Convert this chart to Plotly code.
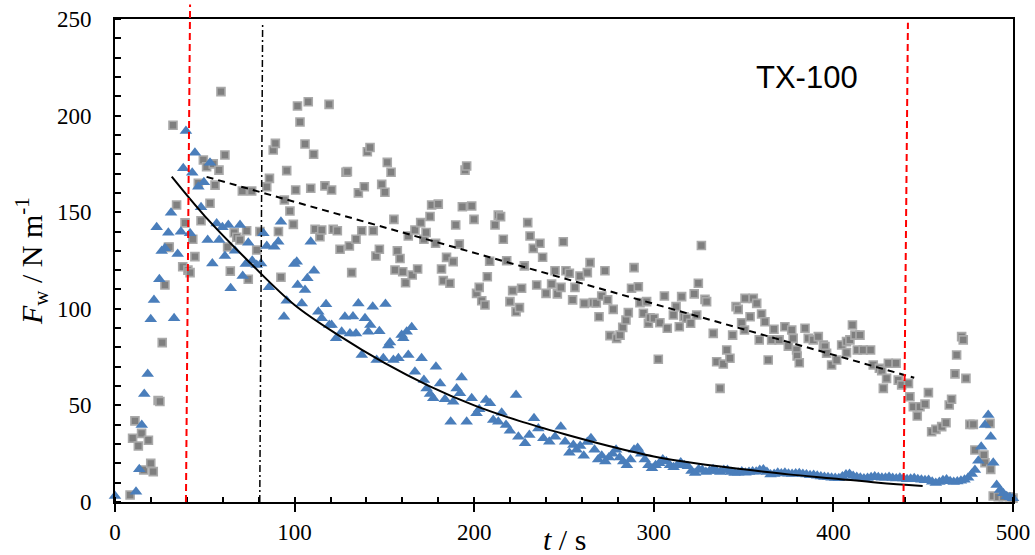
import plotly.graph_objects as go

# ---------------- data ----------------
gray_x = [8.4, 9.8, 11.1, 13, 14.8, 16, 18.6, 19.9, 21.3, 24, 25, 26.3, 27.8, 29.7, 30.2, 32.3, 34.3, 37.7,
          39, 40.6, 41.8, 43.3, 44.5, 46.4, 47.9, 49.2, 51, 52.9, 54.7, 55.7, 57.9, 59, 61.2, 62.7, 64.2,
          66.4, 67.8, 69.6, 70.9, 73.3, 74.2, 76.1, 78.9, 80.7, 84.5, 86, 88.1, 89.3, 91, 92.4, 94.3, 95.6,
          97.4, 99.3, 100.6, 101.6, 103, 105.8, 107.6, 109, 110.6, 111.4, 114.1, 115.1, 116.9, 119.2, 120.6,
          121.5, 123.8, 125.3, 128.6, 129.4, 130.5, 131.8, 134.2, 135.5, 137.4, 138.8, 140.5, 142, 143.8,
          145.3, 147.2, 148.5, 150.3, 151.6, 153.7, 155.3, 155.9, 157.2, 158.7, 160.2, 161.8, 163.3, 165.5,
          167, 168.5, 170.2, 172, 173.2, 175.4, 176.3, 178.5, 180, 181.8, 182.8, 184.6, 186.5, 188.3, 189.7,
          191.7, 193.4, 194.9, 195.8, 198.6, 199.9, 201.3, 202.8, 204.2, 206, 207.3, 208.6, 211.6, 213.4,
          214.7, 216.2, 218.1, 219.9, 221.4, 223.3, 225.2, 226.4, 227.9, 229.8, 231.1, 232.9, 234.8, 236.6,
          238.1, 240, 243.1, 245, 246.3, 248.3, 249.6, 251.1, 253, 254.8, 256.1, 258.9, 261.3, 263, 264.5,
          266.3, 268, 269.5, 271, 272.8, 274.3, 275.6, 277.4, 279.3, 281.2, 282.7, 284.5, 285.8, 287.6, 289,
          291.4, 292.3, 294.2, 296, 297, 297.9, 300.1, 302.5, 303.4, 305.9, 307.5, 310.9, 312.4, 314.2,
          315.5, 316.8, 318.3, 320.5, 322.5, 323.9, 324.8, 326.5, 328.5, 329.4, 333.1, 335, 336.9, 338.7,
          340.6, 342.4, 343.9, 345.8, 347, 348.9, 350.5, 350.8, 353.6, 355.4, 357.3, 358.7, 360, 361.9,
          363.7, 365.6, 366.9, 369.8, 373, 374.9, 376.8, 377.6, 379.5, 379.8, 381, 384.2, 386, 388.8, 391.6,
          394.4, 395.3, 396.2, 399, 401.8, 404.6, 407.3, 407.3, 409.2, 410.6, 412, 413.3, 414.8, 416.6,
          420.7, 422.2, 425.6, 426.9, 427.8, 429.6, 430.6, 434.9, 436.1, 438, 441.8, 442.6, 444.5, 446.7,
          448.2, 451, 452.9, 454.7, 457.1, 460.3, 462.7, 464.5, 465.8, 467.7, 468.6, 471.4, 472.3, 473.8,
          476, 477.9, 478.8, 483.8, 484.4, 487.2, 487.6, 489, 491.8, 494.6, 498.3, 500]
gray_y = [3.6, 33, 42, 29, 35.5, 16.6, 32, 20, 15.7, 52.5, 52, 82.5, 112.3, 131.8, 132, 195, 153.7, 121.8,
          144.5, 120, 118.7, 136, 127, 165, 145.6, 177, 173.5, 154.6, 175, 164, 171.8, 212.4, 179.6, 132, 119.5,
          139.4, 137, 135.6, 161, 140.4, 115.3, 161, 130.4, 140, 163.2, 167.5, 182.2, 185.6, 140, 116.3, 156.3, 171.5,
          150.6, 143.7, 161.5, 205, 196.7, 185.3, 207.2, 162.4, 180, 141.2, 137.3, 140.8, 163.6, 205.8, 161.5,
          141.2, 140.4, 130.8, 170.7, 171, 132.5, 118.7, 136, 160, 140.4, 163.2, 181.3, 183.5, 140.4,
          127.3, 130.8, 164.4, 160.3, 175.8, 170.7, 146.3, 120.1, 130, 126, 119.2, 113.5, 137.7, 117.5,
          140.8, 120.6, 144.6, 136, 139.5, 147.8, 153.7, 133.9, 154.2, 120.6, 114.6, 126.6, 113.2, 124.4, 143.4,
          133.5, 152.8, 171.8, 173.9, 153.2, 146.3, 108, 111.1, 104.2, 102, 116.6, 124.6, 143.4, 148.5,
          147.7, 136, 124.9, 103.7, 109.4, 98.5, 100.6, 110.6, 122.2, 144.6, 137.7, 131.3, 112.3, 133.9,
          126.7, 108, 112.8, 119.7, 107.7, 111.1, 134.7, 119.7, 118.4, 104.6, 111.1, 117, 102.8, 118.7, 123.9,
          103.2, 103, 95.9, 106.6, 119.7, 104.6, 86.1, 99.7, 84.7, 86.4, 90.4, 94.2, 98, 110.6, 121.3,
          111.4, 103.2, 97.7, 103.7, 92.5, 95.4, 95.1, 73.9, 92.8, 106.6, 89.9, 96.8, 101.1, 90.7,
          106.3, 95.9, 95.1, 92.5, 107.7, 96.8, 113.2, 132.8, 104.9, 103.7, 87.3, 72.6, 58.8, 71.4,
          78.7, 74.4, 86.4, 101.1, 99.7, 92.8, 89, 105.4, 95.9, 105.4, 102.8, 83.9, 97.3, 93.3,
          73.5, 83.9, 89.4, 83.9, 90.7, 80.7, 89, 84.7, 78.7, 75.6, 72.1, 89.9, 84.7, 83.9, 85.6,
          81.3, 80.4, 77, 70.9, 73.5, 81.3, 83, 77.3, 83.9, 91.6, 86.4, 78.7, 86.4, 78.7,
          78.7, 70.9, 69.2, 68, 58.8, 64, 71.8, 71.8, 63.1, 60.6, 61.4, 54.5, 49.3, 44.5,
          49.3, 50.7, 56.6, 36.4, 37.6, 39, 41, 50.2, 53.2, 66.3, 76.1, 85.6, 83.9, 64,
          40.2, 40.2, 26.9, 24.3, 20.3, 40.7, 16.9, 3.1, 2.7, 2.7, 2.7, 2]

blue_x = [0, 11.7, 13.5, 14.9, 16.3, 18.2, 19.9, 21.7, 23.2, 24.7, 26, 27.8, 29.7, 31.2, 32.9, 34.9, 36.7,
          38, 39.5, 41.8, 43, 44.5, 46.4, 47.9, 49.5, 51.6, 52.9, 54.2, 56.6, 58, 59.8, 61.2, 63.1, 64.4,
          66.8, 69.6, 71.1, 72.8, 74.2, 76.4, 78.9, 81.3, 82.6, 84.5, 85.7, 88.7, 90.9, 92.4, 94.1, 95.6,
          99.8, 101.2, 101.7, 104, 105.8, 107.1, 109, 110.8, 113.2, 115.1, 117.5, 119.3, 120.6, 123.1,
          126.2, 128, 130.8, 132.5, 134.2, 135.5, 137.4, 139.2, 141, 142.2, 143.5, 145.7, 147.2, 149.4,
          150.6, 152.2, 153.1, 155, 157.8, 159.6, 160.5, 162.4, 163.3, 165.2, 167, 170.7, 172, 173.5,
          175.4, 177.2, 178.7, 181, 183.7, 186.9, 188.3, 190.2, 192.1, 193, 195.8, 198.6, 201.3, 202.8,
          206.6, 208.8, 210.6, 213.4, 215.3, 217.7, 219.9, 223.3, 224.6, 228.3, 230.7, 233.3, 235.7,
          238.5, 241.8, 245, 248.2, 250.6, 253, 255.2,
          257, 259, 261, 263, 265, 267, 269, 271, 273, 275, 277, 279, 281, 283, 285, 287, 289, 291, 293,
          295, 297, 299, 301, 303, 305, 307, 309, 311, 313, 315, 317, 319, 321, 323, 325, 327, 329, 331,
          333, 335, 337, 339, 341, 343, 345, 347, 349, 351, 353, 355, 357, 359, 361, 363, 365, 367, 369,
          371, 373, 375, 377, 379, 381, 383, 385, 387, 389, 391, 393, 395, 397, 399, 401, 403, 405, 407,
          409, 411, 413, 415, 417, 419, 421, 423, 425, 427, 429, 431, 433, 435, 437, 439, 441, 443, 445,
          447, 449, 451, 453, 455, 457, 459, 461, 463, 465, 467, 469, 471, 473, 475, 477,
          478.8, 480.7, 482.3, 484.4, 486.2, 487.6, 489, 490.9, 492.8, 494.6, 496.5, 498.3, 500]
blue_y = [3.1, 5.3, 16.9, 39.9, 55.9, 66.3, 94.6, 104.6, 142.2, 115.3, 129.9, 131.3, 139.4, 149.7, 95.1, 128.4, 139.9,
          172.7, 192, 139.1, 170.4, 180.8, 163.2, 152.5, 165.5, 135.6, 175.6, 123.5, 144.2, 135.6, 142.2, 127.3, 143.4, 110.6,
          130.1, 143.4, 117, 123.2, 134.2, 124.9, 122.7, 123.5, 139.1, 132.5, 111.1, 132.1, 134.7, 145.1, 95.9, 104.2,
          123.2, 124.4, 112.3, 102.8, 109.7, 115.8, 134.7, 119.7, 98.5, 95.1, 102.3, 91.6, 91.6, 84.7,
          88.1, 95.9, 87.2, 96, 87.2, 102.8, 76.1, 95.1, 88.1, 91.6, 101, 73.5, 88.4, 74.4,
          102.5, 81, 82.5, 73.5, 74.4, 86.4, 84.7, 88.1, 76.1, 90.5, 67.4, 74.4, 63.1, 58.8,
          55.9, 53.7, 70, 61.4, 53.2, 41.6, 51.9, 58.8, 56.3, 64.5, 41.6, 53.7, 45.9, 48,
          52.8, 51.1, 42.4, 41.6, 46.2, 39.9, 36.9, 55.4, 33.8, 30.4, 34.7, 43.3, 38.1,
          33, 31.2, 33.8, 39, 31.2, 25.5, 29.5,
          27, 29, 24, 31, 33, 27, 22, 24, 21, 23, 25, 27, 23, 21, 19, 22, 27, 28, 25,
          22, 19, 17.5, 19, 20, 22, 21, 19, 18, 19, 20.5, 19, 18.5, 16, 15, 17, 16.5, 15.5, 16,
          17, 16, 15.5, 16.5, 16.5, 15.5, 15, 15.2, 15.8, 15.2, 15.5, 15.8, 15.7, 16.5, 16.8, 15.5, 14.2, 14.5, 15.2,
          14.8, 15.2, 14.6, 14.5, 14.8, 14.9, 14.5, 14.2, 13.8, 14, 13.6, 13.2, 13, 12.8, 12.5, 12.4, 12.3, 13.2, 14.2,
          14.5, 13.5, 13, 12.5, 12.2, 12.4, 12.8, 13.2, 12.8, 12.5, 12.6, 12.9, 12.4, 12.2, 12.5, 12.1, 11.8, 12, 12.3,
          11.8, 11.5, 11.2, 11.4, 10.5, 9.8, 10.4, 11.2, 11.6, 10.8, 10.3, 10.6, 11, 11.5, 12.5, 14.5,
          16.6, 21.4, 28.6, 39.9, 45, 33.8, 20.3, 8.8, 6.2, 4.5, 3, 2.5, 2]

# fitted curves
exp_fit_x = [31.6, 50, 75, 100, 125, 150, 175, 200, 225, 250, 275, 300, 325, 350, 375, 400, 425, 449.7]
exp_fit_y = [168.4, 148, 124, 102, 86, 72, 60, 50, 42, 35.2, 29, 23.6, 19.8, 16.9, 14.3, 12.2, 10, 8.3]
lin_fit_x = [51, 445]
lin_fit_y = [168.3, 64.3]

# vertical marker lines: [x at bottom, x at top]
red_lines = [[39.5, 41.8], [439, 441.5]]
dashdot_line = [80.6, 82.2]

x_ticks = [0, 100, 200, 300, 400, 500]
y_ticks = [0, 50, 100, 150, 200, 250]

SERIF = "Liberation Serif"
CLEAR = "rgba(0,0,0,0)"

fig = go.Figure()
fig.add_trace(go.Scatter(x=gray_x, y=gray_y, mode="markers", cliponaxis=False,
                         marker=dict(symbol="square", size=8, color="#7f7f7f",
                                     line=dict(color="#a9a9a9", width=1.6)),
                         showlegend=False, hoverinfo="skip"))
fig.add_trace(go.Scatter(x=blue_x, y=blue_y, mode="markers", cliponaxis=False,
                         marker=dict(symbol="triangle-up", size=11, color="#4a7ebb",
                                     line=dict(width=0)),
                         showlegend=False, hoverinfo="skip"))
fig.add_trace(go.Scatter(x=exp_fit_x, y=exp_fit_y, mode="lines",
                         line=dict(color="black", width=2, shape="spline"),
                         showlegend=False, hoverinfo="skip"))
fig.add_trace(go.Scatter(x=lin_fit_x, y=lin_fit_y, mode="lines",
                         line=dict(color="black", width=2, dash="7px,5px"),
                         showlegend=False, hoverinfo="skip"))

shapes = []
shapes.append(dict(type="line", xref="x", yref="paper", x0=red_lines[0][0], x1=red_lines[0][1],
                   y0=0, y1=1.03, line=dict(color="#ff0000", width=2, dash="7px,4px")))
shapes.append(dict(type="line", xref="x", yref="paper", x0=red_lines[1][0], x1=red_lines[1][1],
                   y0=0, y1=0.992, line=dict(color="#ff0000", width=2, dash="7px,4px")))
shapes.append(dict(type="line", xref="x", yref="paper", x0=dashdot_line[0], x1=dashdot_line[1],
                   y0=0, y1=0.99, line=dict(color="black", width=1.5, dash="7px,3px,2px,3px")))

fig.update_layout(
    width=1035, height=555,
    margin=dict(l=115, r=22, t=19, b=53, autoexpand=False),
    paper_bgcolor="white", plot_bgcolor="white",
    template="none",
    shapes=shapes,
    xaxis=dict(range=[0, 500], tickvals=x_ticks, ticks="outside", ticklen=8, tickwidth=2,
               tickcolor="black", showline=True, linecolor="black", linewidth=2, mirror=True,
               showgrid=False, zeroline=False, automargin=False,
               tickfont=dict(family=SERIF, size=23, color="black"),
               minor=dict(dtick=20, ticks="inside", ticklen=5, tickwidth=1.5, tickcolor="black",
                          showgrid=False)),
    xaxis2=dict(range=[0, 500], overlaying="x", anchor="y", side="bottom", tickvals=x_ticks,
                ticks="inside", ticklen=6, tickwidth=2, tickcolor="black", showticklabels=False,
                showline=False, showgrid=False, zeroline=False, automargin=False),
    # main y axis: labels pushed out by a long, invisible tick
    yaxis=dict(range=[0, 250], tickvals=y_ticks, ticks="outside", ticklen=17, tickwidth=2,
               tickcolor=CLEAR, showline=True, linecolor="black", linewidth=2, mirror=True,
               showgrid=False, zeroline=False, automargin=False,
               tickfont=dict(family=SERIF, size=23, color="black"),
               minor=dict(dtick=10, ticks="inside", ticklen=6, tickwidth=1.5, tickcolor="black",
                          showgrid=False)),
    # overlay y axis: the visible short major ticks
    yaxis2=dict(range=[0, 250], overlaying="y", anchor="x", side="left", tickvals=y_ticks,
                ticks="outside", ticklen=8, tickwidth=2, tickcolor="black", showticklabels=False,
                showline=False, showgrid=False, zeroline=False, automargin=False),
    annotations=[
        dict(text="TX-100", x=385.5, y=219.5, xref="x", yref="y", showarrow=False,
             font=dict(family="Liberation Sans", size=31, color="black")),
        dict(text="<i>t</i> / s", x=0.501, y=-0.078, xref="paper", yref="paper", showarrow=False,
             xanchor="center", yanchor="middle",
             font=dict(family=SERIF, size=30, color="black")),
        dict(text="<i>F</i><sub>w</sub> / N m<sup>-1</sup>", x=-0.093, y=0.50, xref="paper",
             yref="paper", showarrow=False, textangle=-90, xanchor="center", yanchor="middle",
             font=dict(family=SERIF, size=30, color="black")),
    ],
)

fig.write_html("out.html")
